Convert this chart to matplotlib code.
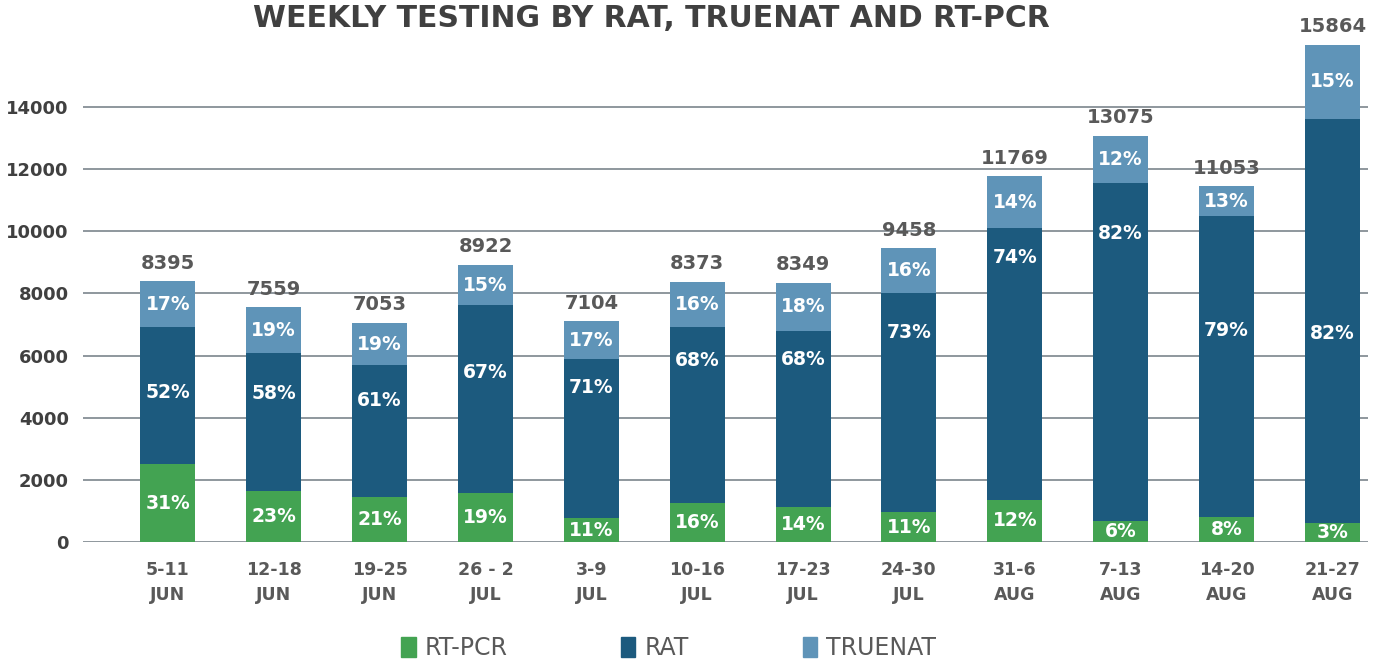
import matplotlib
matplotlib.use("Agg")
import matplotlib.pyplot as plt
from matplotlib.patches import Patch
import numpy as np

# weekly tests
weeks = ["5-11\nJUN", "12-18\nJUN", "19-25\nJUN", "26 - 2\nJUL", "3-9\nJUL",
         "10-16\nJUL", "17-23\nJUL", "24-30\nJUL", "31-6\nAUG", "7-13\nAUG",
         "14-20\nAUG", "21-27\nAUG"]
rt_pcr = [2510, 1640, 1450, 1580, 770, 1250, 1130, 960, 1360, 670, 800, 610]
rat = [4400, 4440, 4240, 6040, 5110, 5660, 5650, 7050, 8750, 10880, 9700, 13010]
truenat = [1480, 1480, 1360, 1300, 1220, 1460, 1570, 1450, 1660, 1530, 950, 2380]

# labels as printed on the chart
totals = [8395, 7559, 7053, 8922, 7104, 8373, 8349, 9458, 11769, 13075, 11053, 15864]
pct_rt_pcr = [31, 23, 21, 19, 11, 16, 14, 11, 12, 6, 8, 3]
pct_rat = [52, 58, 61, 67, 71, 68, 68, 73, 74, 82, 79, 82]
pct_truenat = [17, 19, 19, 15, 17, 16, 18, 16, 14, 12, 13, 15]

# where the RAT % label sits inside its segment (0 = bottom, 1 = top)
rat_label_frac = [0.52, 0.71, 0.73, 0.64, 0.82, 0.81, 0.84, 0.82, 0.89, 0.85, 0.62, 0.47]

GREEN = "#43A352"
DARK = "#1C5A7E"
LIGHT = "#5F94B8"
GREY = "#595959"

plt.rcParams["font.family"] = "DejaVu Sans"

fig = plt.figure(figsize=(13.79, 6.68), dpi=100)
ax = fig.add_axes([0.060, 0.1886, 0.932, 0.7442])

x = np.arange(len(weeks))
rt = np.array(rt_pcr)
ra = np.array(rat)
tr = np.array(truenat)
w = 0.52

ax.bar(x, rt, w, color=GREEN, zorder=3)
ax.bar(x, ra, w, bottom=rt, color=DARK, zorder=3)
ax.bar(x, tr, w, bottom=rt + ra, color=LIGHT, zorder=3)

lab = dict(color="white", fontsize=13.5, fontweight="bold", ha="center", va="center", zorder=4)
for i in range(len(weeks)):
    ax.text(x[i], rt[i] / 2, f"{pct_rt_pcr[i]}%", **lab)
    ax.text(x[i], rt[i] + ra[i] * rat_label_frac[i], f"{pct_rat[i]}%", **lab)
    ax.text(x[i], rt[i] + ra[i] + tr[i] / 2, f"{pct_truenat[i]}%", **lab)
    top = rt[i] + ra[i] + tr[i]
    ax.annotate(str(totals[i]), (x[i], top), xytext=(0, 13), textcoords="offset points",
                ha="center", va="center", fontsize=14, fontweight="bold", color=GREY,
                annotation_clip=False)

ax.set_xlim(-0.804, 11.336)
ax.set_ylim(0, 16000)
ax.set_yticks(range(0, 14001, 2000))
ax.set_xticks(x)
ax.set_xticklabels(weeks, linespacing=1.45)
ax.grid(axis="y", color="#8E979D", linewidth=1.4, zorder=0)
ax.tick_params(axis="y", length=0, pad=10, labelsize=13, labelcolor="#404040")
ax.tick_params(axis="x", length=0, pad=14, labelsize=12.5, labelcolor=GREY)
for t in ax.get_yticklabels() + ax.get_xticklabels():
    t.set_fontweight("bold")
for s in ax.spines.values():
    s.set_visible(False)

fig.text(0.472, 0.973, "WEEKLY TESTING BY RAT, TRUENAT AND RT-PCR", ha="center", va="center",
         fontsize=21.5, fontweight="heavy", color="#404040")

handles = [Patch(color=GREEN, label="RT-PCR"), Patch(color=DARK, label="RAT"),
           Patch(color=LIGHT, label="TRUENAT")]
leg = fig.legend(handles=handles, loc="center", bbox_to_anchor=(0.485, 0.03), ncol=3,
                 frameon=False, fontsize=17, handlelength=0.6, handleheight=0.9,
                 handletextpad=0.4, columnspacing=4.8, borderpad=0.2)
for t in leg.get_texts():
    t.set_color(GREY)

fig.savefig("out.png", dpi=100)
